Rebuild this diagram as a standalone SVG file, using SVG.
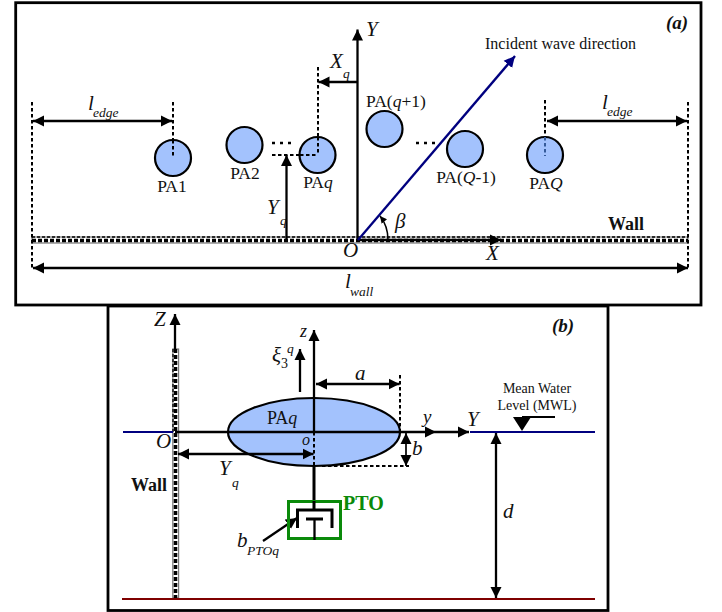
<svg xmlns="http://www.w3.org/2000/svg" width="722" height="612" viewBox="0 0 722 612">
<style>
text{font-family:"Liberation Serif","Times New Roman",serif;fill:#111}
.i{font-style:italic}
.l{font-size:17.500px}
.v{font-size:21px;font-style:italic}
.s{font-size:13.500px;font-style:italic}
.b{font-weight:bold}
.pa{fill:#a3c2fd;stroke:#000;stroke-width:2.200}
.k{fill:none;stroke:#000;stroke-width:2.300}
.t{fill:none;stroke:#000;stroke-width:3}
.h{fill:none;stroke:#000;stroke-width:1.700}
.d{fill:none;stroke:#000;stroke-width:2;stroke-dasharray:3.500 2.500}
.o{fill:none;stroke:#000;stroke-width:2.600;stroke-dasharray:3 5}
.sq{fill:none;stroke:#000;stroke-width:3.600;stroke-dasharray:4 2}
.w{fill:none;stroke:#000;stroke-width:1.300;stroke-dasharray:3 2}
.f{fill:none;stroke:#000;stroke-width:2.800}
</style>
<defs>
<marker id="a" markerUnits="userSpaceOnUse" markerWidth="12" markerHeight="12" refX="11" refY="6" orient="auto-start-reverse"><path d="M0 0.500L11 6L0 11.500z" fill="#000"/></marker>
<marker id="n" markerUnits="userSpaceOnUse" markerWidth="12" markerHeight="12" refX="11" refY="6" orient="auto"><path d="M0 0.500L11 6L0 11.500z" fill="#00007f"/></marker>
<marker id="c" markerUnits="userSpaceOnUse" markerWidth="8" markerHeight="8" refX="7" refY="4" orient="auto"><path d="M0 0.500L7 4L0 7.500z" fill="#000"/></marker>
</defs>
<rect width="722" height="612" fill="#fff"/>
<g id="frame-a"><rect class="f" x="15.700" y="2.700" width="685.300" height="302.300"/></g>
<g id="frame-b"><rect class="f" x="108" y="306" width="500" height="304.500"/></g>

<g id="wall-a">
<rect x="32" y="237" width="656" height="6" fill="#fff" stroke="#777" stroke-width="1.200"/>
<path class="sq" d="M32 240.500H688"/>
<path class="w" d="M32 237H688"/>
</g>
<g id="wall-b">
<rect x="172.800" y="349" width="5.800" height="249" fill="#fff" stroke="#777" stroke-width="1.200"/>
<path class="sq" d="M175.500 349V598"/>
<path class="w" d="M173 349V432"/>
</g>

<g id="PAq-b">
<ellipse cx="314" cy="432" rx="86" ry="34" class="pa"/>
<text class="l" x="267" y="424" style="font-size:18px">PA<tspan class="i">q</tspan></text>
</g>

<g id="connectors">
<path class="k" d="M357.500 240V29.500" marker-end="url(#a)"/>
<path class="k" d="M357 82H318.500" marker-end="url(#a)"/>
<path class="k" d="M286.500 240V155" marker-end="url(#a)"/>
<path class="k" d="M33 121H172" marker-start="url(#a)" marker-end="url(#a)"/>
<path class="k" d="M547 121H687" marker-start="url(#a)" marker-end="url(#a)"/>
<path class="k" d="M33 268H688" marker-start="url(#a)" marker-end="url(#a)"/>
<path class="k" d="M358 240H501" marker-end="url(#a)"/>
<path d="M358 240L515 56" fill="none" stroke="#00007f" stroke-width="2.300" marker-end="url(#n)"/>
<path d="M388 240Q388 226 380 216" fill="none" stroke="#000" stroke-width="1.500" marker-end="url(#c)"/>
<path class="d" d="M32 102V268M173 102V158M318 67V155M272 155H318M545 100V137M688 102V268"/>
<path class="o" d="M272 143H293M416 143H437"/>
<path d="M123 432H173" stroke="#00007f" stroke-width="2" fill="none"/>
<path d="M470 432H595" stroke="#00007f" stroke-width="2" fill="none"/>
<path d="M122 599H595" stroke="#7f0000" stroke-width="2.200" fill="none"/>
<path class="k" d="M175 349V314" marker-end="url(#a)"/>
<path class="k" d="M175 432H436" marker-end="url(#a)"/>
<path class="k" d="M436 432H469" marker-end="url(#a)"/>
<path class="k" d="M314 432V330" marker-end="url(#a)"/>
<path class="k" d="M300 392V349" marker-end="url(#a)"/>
<path class="k" d="M316 384H399.500" marker-start="url(#a)" marker-end="url(#a)"/>
<path class="k" d="M178 454H313.500" marker-start="url(#a)" marker-end="url(#a)"/>
<path class="h" d="M406 433V466" marker-start="url(#a)" marker-end="url(#a)"/>
<path class="k" d="M496 433V598" marker-start="url(#a)" marker-end="url(#a)"/>
<path class="k" d="M263 541L297 518" marker-end="url(#a)"/>
<path class="d" d="M400 375V432M314 432V466M322 466H409"/>
</g>

<g id="PA1"><circle class="pa" cx="173" cy="158" r="18"/><path class="d" d="M173 140V158"/><text class="l" x="172" y="192" text-anchor="middle">PA1</text></g>
<g id="PA2"><circle class="pa" cx="244.500" cy="145" r="18"/><text class="l" x="245" y="179" text-anchor="middle">PA2</text></g>
<g id="PAq"><circle class="pa" cx="317.500" cy="155" r="18"/><path class="d" d="M318 137V155M300 155H318"/><text class="l" x="318" y="188" text-anchor="middle">PA<tspan class="i">q</tspan></text></g>
<g id="PAq1"><circle class="pa" cx="384.500" cy="129" r="18"/><text class="l" x="396" y="107" text-anchor="middle">PA(<tspan class="i">q</tspan>+1)</text></g>
<g id="PAQ1"><circle class="pa" cx="465" cy="149" r="18"/><text class="l" x="466" y="183" text-anchor="middle">PA(<tspan class="i">Q</tspan>-1)</text></g>
<g id="PAQ"><circle class="pa" cx="545" cy="155" r="18"/><path d="M545 137V156" fill="none" stroke="#345a9a" stroke-width="2" stroke-dasharray="3.500 2.500"/><text class="l" x="546" y="189" text-anchor="middle">PA<tspan class="i">Q</tspan></text></g>

<g id="PTO">
<path class="t" d="M314 467V501"/>
<rect x="288.500" y="501.500" width="52" height="37" fill="none" stroke="#0a8a0a" stroke-width="3"/>
<path class="t" d="M297.500 528V510H332V528M306 519H323M314 501V510"/>
<path class="k" d="M314.500 519V540"/>
<text class="b" x="343" y="510" style="font-size:20px;fill:#0a8a0a">PTO</text>
</g>

<g id="labels">
<text class="b i" x="666" y="29" style="font-size:19px">(a)</text>
<text class="b i" x="552" y="332" style="font-size:19px">(b)</text>
<text x="485" y="49" style="font-size:16px">Incident wave direction</text>
<text class="v" x="366" y="36">Y</text>
<text class="v" x="330" y="68">X</text><text class="s" x="343" y="78">q</text>
<text class="v" x="88" y="110">l</text><text class="s" x="93" y="117">edge</text>
<text class="v" x="602" y="109">l</text><text class="s" x="607" y="116">edge</text>
<text class="v" x="267" y="214">Y</text><text class="s" x="280" y="225">q</text>
<text class="v" x="343" y="257">O</text>
<text class="v" x="486" y="260">X</text>
<text class="v" x="395" y="228">β</text>
<text class="b" x="608" y="230" style="font-size:18px">Wall</text>
<text class="v" x="345" y="288">l</text><text class="s" x="350" y="296">wall</text>
<text class="v" x="154" y="326">Z</text>
<text class="i" x="300" y="337" style="font-size:18px">z</text>
<text class="v" x="272" y="362">ξ</text><text x="281" y="368" style="font-size:14px">3</text><text class="s" x="287" y="353">q</text>
<text class="v" x="355" y="380">a</text>
<text class="v" x="156" y="448">O</text>
<text class="i" x="302" y="445" style="font-size:16px">o</text>
<text class="v" x="219" y="475">Y</text><text class="s" x="232" y="487">q</text>
<text class="b" x="131" y="491" style="font-size:18px">Wall</text>
<text class="i" x="423" y="423" style="font-size:19px">y</text>
<text class="v" x="467" y="426">Y</text>
<text class="v" x="412" y="455">b</text>
<text class="v" x="503" y="518">d</text>
<text x="537" y="393" style="font-size:14px" text-anchor="middle">Mean Water</text>
<text x="537" y="410" style="font-size:14px" text-anchor="middle">Level (MWL)</text>
<text class="v" x="237" y="547">b</text><text class="s" x="247" y="555">PTOq</text>
</g>
<g id="mwl-symbol"><path d="M513 417H531L522 431z" fill="#000"/><path d="M522 417H555" stroke="#000" stroke-width="2" fill="none"/></g>
</svg>
